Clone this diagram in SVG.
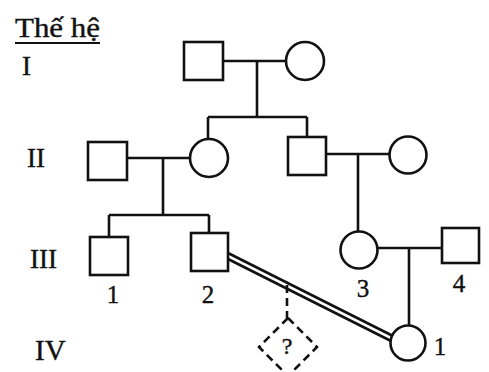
<svg xmlns="http://www.w3.org/2000/svg" width="489" height="372" viewBox="0 0 489 372">
<style>
.s{fill:none;stroke:#111;stroke-width:2.6}
.t{font-family:"Liberation Serif","Times New Roman",serif;font-size:27px;fill:#111;stroke:#111;stroke-width:0.4}
.n{font-family:"Liberation Serif","Times New Roman",serif;font-size:25px;fill:#111;stroke:#111;stroke-width:0.4;text-anchor:middle}
.d{fill:none;stroke:#111;stroke-width:2.6;stroke-dasharray:8 5}
</style>
<rect width="489" height="372" fill="#fff"/>
<g id="labels">
<text class="t" x="15" y="37" textLength="85" lengthAdjust="spacingAndGlyphs">Thế hệ</text>
<line x1="15" y1="43" x2="100" y2="43" stroke="#111" stroke-width="1.8"/>
<text class="t" x="22" y="75">I</text>
<text class="t" x="27" y="167">II</text>
<text class="t" x="30" y="268">III</text>
<text class="t" x="35" y="360" style="font-size:29px">IV</text>
</g>
<g id="connectors">
<path class="s" d="M223 61H286M257 61V117M208 117H307M208 117V140M307 117V137"/>
<path class="s" d="M127 158H190M163 158V215M109 215H209M109 215V237M209 215V233"/>
<path class="s" d="M326 154H390M358 154V232"/>
<path class="s" d="M378 248H442M409 248V325"/>
<line class="s" x1="228" y1="253" x2="393" y2="336"/>
<line class="s" x1="228" y1="259" x2="391" y2="341"/>
<path class="d" d="M287 285V318"/>
</g>
<g id="I-1"><rect class="s" x="184" y="42" width="39" height="38"/></g>
<g id="I-2"><circle class="s" cx="305" cy="61" r="19"/></g>
<g id="II-1"><rect class="s" x="88" y="142" width="39" height="38"/></g>
<g id="II-2"><circle class="s" cx="209" cy="158" r="19"/></g>
<g id="II-3"><rect class="s" x="288" y="137" width="38" height="38"/></g>
<g id="II-4"><circle class="s" cx="408" cy="155" r="18.5"/></g>
<g id="III-1"><rect class="s" x="90" y="237" width="38" height="38"/><text class="n" x="113" y="303">1</text></g>
<g id="III-2"><rect class="s" x="191" y="233" width="37" height="38"/><text class="n" x="208" y="303">2</text></g>
<g id="III-3"><circle class="s" cx="359" cy="250" r="18.5"/><text class="n" x="363" y="297">3</text></g>
<g id="III-4"><rect class="s" x="442" y="228" width="37" height="35"/><text class="n" x="459" y="292">4</text></g>
<g id="IV-1"><circle class="s" cx="408" cy="343" r="17.5"/><text class="n" x="440" y="355">1</text></g>
<g id="IV-q"><path class="d" d="M288 318L317 347L288 376L259 347Z"/><text class="n" x="287" y="354" style="font-size:24px">?</text></g>
</svg>
